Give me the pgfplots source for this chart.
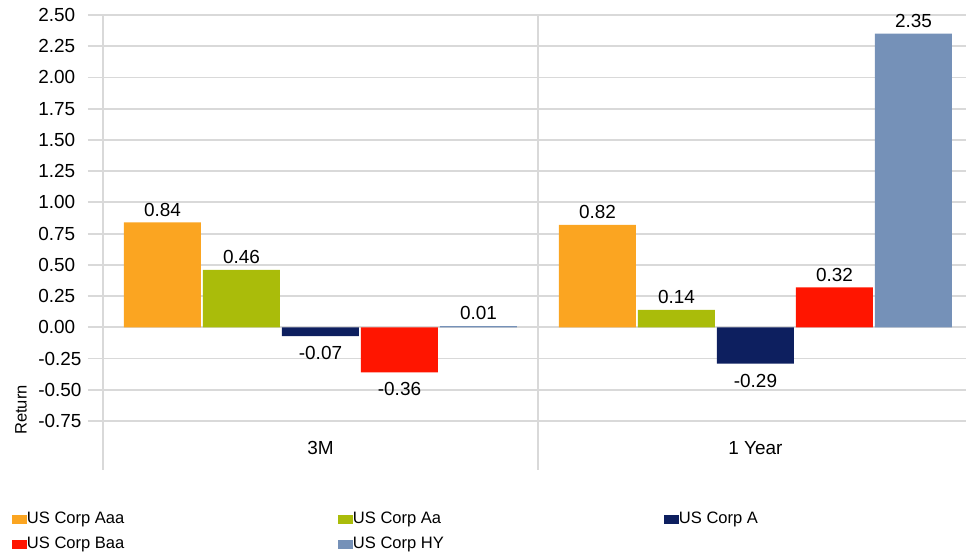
\documentclass[border=0pt]{standalone}
\usepackage{pgfplots}
\pgfplotsset{compat=1.18}
\usepackage{fontspec}
\setmainfont{Liberation Sans}
\definecolor{cAaa}{RGB}{251,165,33}
\definecolor{cAa}{RGB}{170,188,10}
\definecolor{cA}{RGB}{13,31,95}
\definecolor{cBaa}{RGB}{255,21,0}
\definecolor{cHY}{RGB}{117,145,184}
\definecolor{gridc}{RGB}{217,217,217}
\begin{document}
\begin{tikzpicture}
\useasboundingbox (0,0) rectangle (724.5pt,417pt);
\begin{axis}[
  at={(77.25pt,101.25pt)}, anchor=south west,
  width=647.25pt, height=304.5pt, scale only axis,
  xmin=-0.5, xmax=1.484, ymin=-0.75, ymax=2.5,
  clip=false,
  axis line style={draw=none},
  ybar=1.5pt, bar width=57.75pt,
  xtick={0,1}, xticklabels={3M,1 Year},
  xtick style={draw=none},
  xticklabel style={font=\fontsize{14.2pt}{16pt}\selectfont, anchor=center, yshift=-9pt},
  ytick={-0.75,-0.5,...,2.5},
  ytick pos=left, xtick pos=left,
  tick align=outside, major tick length=11.25pt,
  ytick style={draw=gridc, line width=1.4pt},
  ymajorgrids, major grid style={draw=gridc, line width=1.4pt},
  yticklabel style={font=\fontsize{14.2pt}{16pt}\selectfont, anchor=west, inner sep=0pt, xshift=-37.5pt,
    /pgf/number format/.cd, fixed, fixed zerofill, precision=2, assume math mode=true},
  ylabel={Return},
  ylabel style={font=\fontsize{12.4pt}{14pt}\selectfont, at={(axis description cs:-0.095,0.027)}, anchor=center},
  nodes near coords={\pgfmathprintnumber[fixed,fixed zerofill,precision=2,assume math mode=true]{\pgfplotspointmeta}},
  every node near coord/.append style={font=\fontsize{14.2pt}{16pt}\selectfont, inner sep=4.5pt, text height=13pt, text depth=0pt},
  legend columns=3,
  legend image code/.code={\fill[#1] (0pt,-3.5pt) rectangle (11pt,3.5pt);},
  legend style={draw=none, fill=none, inner sep=0pt, at={(axis description cs:-0.1054,-0.2225)}, anchor=north west,
    font=\fontsize{12.4pt}{14pt}\selectfont,
    nodes={inner sep=0pt, text height=9pt, text depth=2.6pt},
    row sep=7.3pt,
    /tikz/every even column/.append style={column sep=1.5pt}},
]
\draw[gridc, line width=1.4pt] (axis cs:-0.5,2.5) -- ([yshift=-36.75pt]axis cs:-0.5,-0.75);
\draw[gridc, line width=1.4pt] (axis cs:0.5,2.5) -- ([yshift=-36.75pt]axis cs:0.5,-0.75);
\addplot[fill=cAaa, draw=none] coordinates {(0,0.84) (1,0.82)};
\addlegendentry{\makebox[232pt][l]{US Corp Aaa}}
\addplot[fill=cAa, draw=none] coordinates {(0,0.46) (1,0.14)};
\addlegendentry{\makebox[232pt][l]{US Corp Aa}}
\addplot[fill=cA, draw=none] coordinates {(0,-0.07) (1,-0.29)};
\addlegendentry{\makebox[232pt][l]{US Corp A}}
\addplot[fill=cBaa, draw=none] coordinates {(0,-0.36) (1,0.32)};
\addlegendentry{\makebox[232pt][l]{US Corp Baa}}
\addplot[fill=cHY, draw=none] coordinates {(0,0.01) (1,2.35)};
\addlegendentry{\makebox[232pt][l]{US Corp HY}}
\end{axis}
\end{tikzpicture}
\end{document}
